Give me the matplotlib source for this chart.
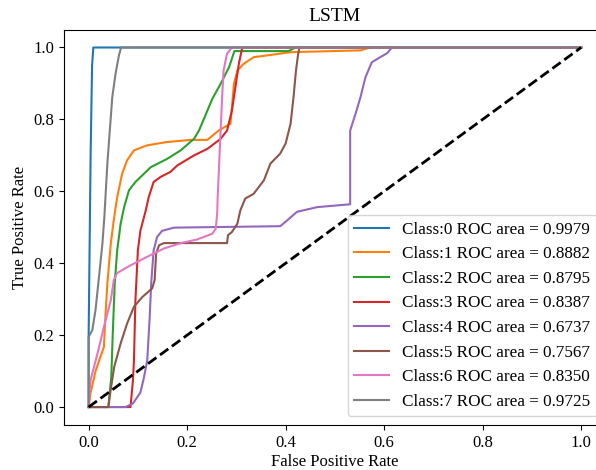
import matplotlib
matplotlib.use("Agg")
import matplotlib.pyplot as plt

plt.rcParams["font.family"] = "serif"
plt.rcParams["font.serif"] = ["Liberation Serif", "DejaVu Serif"]
plt.rcParams["font.size"] = 12

title = "LSTM"
aucs = [0.9979, 0.8882, 0.8795, 0.8387, 0.6737, 0.7567, 0.8350, 0.9725]

# ROC points, one pair of lists per class
fpr0 = [0.0, 0.0, 0.004, 0.007, 0.0095, 1.0]
tpr0 = [0.0, 0.2, 0.7, 0.95, 1.0, 1.0]

fpr1 = [0.0, 0.004, 0.014, 0.024, 0.031, 0.034, 0.038, 0.045, 0.051, 0.058, 0.068, 0.078,
        0.092, 0.119, 0.159, 0.207, 0.241, 0.264, 0.288, 0.295, 0.302, 0.315, 0.335,
        0.362, 0.41, 0.552, 0.572, 1.0]
tpr1 = [0.0, 0.04, 0.10, 0.14, 0.167, 0.25, 0.344, 0.455, 0.52, 0.584, 0.649, 0.686,
        0.714, 0.728, 0.737, 0.743, 0.743, 0.769, 0.788, 0.899, 0.936, 0.955, 0.973,
        0.978, 0.987, 0.992, 1.0, 1.0]

fpr2 = [0.0, 0.04, 0.046, 0.049, 0.053, 0.058, 0.065, 0.072, 0.082, 0.095, 0.126, 0.159,
        0.187, 0.214, 0.224, 0.237, 0.251, 0.268, 0.285, 0.296, 0.406, 0.42, 1.0]
tpr2 = [0.0, 0.0, 0.084, 0.205, 0.344, 0.436, 0.51, 0.556, 0.603, 0.626, 0.667, 0.69,
        0.714, 0.746, 0.769, 0.811, 0.857, 0.899, 0.945, 0.99, 0.99, 1.0, 1.0]

fpr3 = [0.0, 0.085, 0.09, 0.092, 0.095, 0.1, 0.105, 0.116, 0.122, 0.132, 0.146, 0.166,
        0.18, 0.214, 0.241, 0.268, 0.281, 0.291, 0.298, 0.305, 0.312, 1.0]
tpr3 = [0.0, 0.0, 0.075, 0.13, 0.297, 0.436, 0.49, 0.547, 0.584, 0.626, 0.64, 0.654,
        0.672, 0.7, 0.718, 0.746, 0.769, 0.825, 0.89, 0.955, 1.0, 1.0]

fpr4 = [0.0, 0.075, 0.09, 0.105, 0.112, 0.119, 0.124, 0.127, 0.132, 0.139, 0.149, 0.173,
        0.389, 0.403, 0.423, 0.464, 0.531, 0.531, 0.542, 0.552, 0.562, 0.575, 0.592,
        0.606, 0.616, 1.0]
tpr4 = [0.0, 0.0, 0.01, 0.04, 0.08, 0.13, 0.25, 0.344, 0.436, 0.473, 0.49, 0.499,
        0.503, 0.519, 0.543, 0.556, 0.564, 0.769, 0.816, 0.862, 0.917, 0.959, 0.973,
        0.984, 1.0, 1.0]

fpr5 = [0.0, 0.04, 0.045, 0.052, 0.065, 0.078, 0.092, 0.109, 0.129, 0.134, 0.137, 0.143,
        0.153, 0.281, 0.283, 0.291, 0.302, 0.308, 0.318, 0.335, 0.356, 0.369, 0.389,
        0.4, 0.41, 0.416, 0.421, 0.425, 0.428, 1.0]
tpr5 = [0.0, 0.0, 0.05, 0.112, 0.177, 0.232, 0.279, 0.306, 0.33, 0.353, 0.427, 0.45,
        0.456, 0.456, 0.478, 0.487, 0.51, 0.547, 0.58, 0.593, 0.631, 0.677, 0.705,
        0.733, 0.788, 0.862, 0.936, 0.978, 1.0, 1.0]

fpr6 = [0.0, 0.004, 0.0075, 0.018, 0.031, 0.045, 0.051, 0.058, 0.085, 0.119, 0.153,
        0.187, 0.22, 0.251, 0.258, 0.261, 0.262, 0.268, 0.271, 0.274, 0.281, 0.291, 1.0]
tpr6 = [0.0, 0.075, 0.094, 0.149, 0.223, 0.297, 0.353, 0.373, 0.394, 0.418, 0.441,
        0.456, 0.466, 0.482, 0.496, 0.538, 0.584, 0.769, 0.862, 0.936, 0.983, 1.0, 1.0]

fpr7 = [0.0, 0.0, 0.0075, 0.014, 0.021, 0.028, 0.032, 0.038, 0.048, 0.055, 0.0615, 0.066, 1.0]
tpr7 = [0.0, 0.195, 0.214, 0.27, 0.362, 0.455, 0.53, 0.677, 0.862, 0.93, 0.978, 1.0, 1.0]

fprs = [fpr0, fpr1, fpr2, fpr3, fpr4, fpr5, fpr6, fpr7]
tprs = [tpr0, tpr1, tpr2, tpr3, tpr4, tpr5, tpr6, tpr7]

fig = plt.figure(figsize=(5.96, 4.70), dpi=100)
ax = fig.add_axes([0.1074, 0.0957, 0.909, 0.8415])

for i in range(len(fprs)):
    ax.plot(fprs[i], tprs[i], label="Class:%d ROC area = %.4f" % (i, aucs[i]))

ax.plot([0, 1], [0, 1], "k--", lw=2)
ax.set_title(title, fontsize=14)
ax.set_xlabel("False Positive Rate", labelpad=2)
ax.set_ylabel("True Positive Rate")
ax.legend(loc="lower right", fontsize=12.3)

fig.savefig("out.png", dpi=100)
